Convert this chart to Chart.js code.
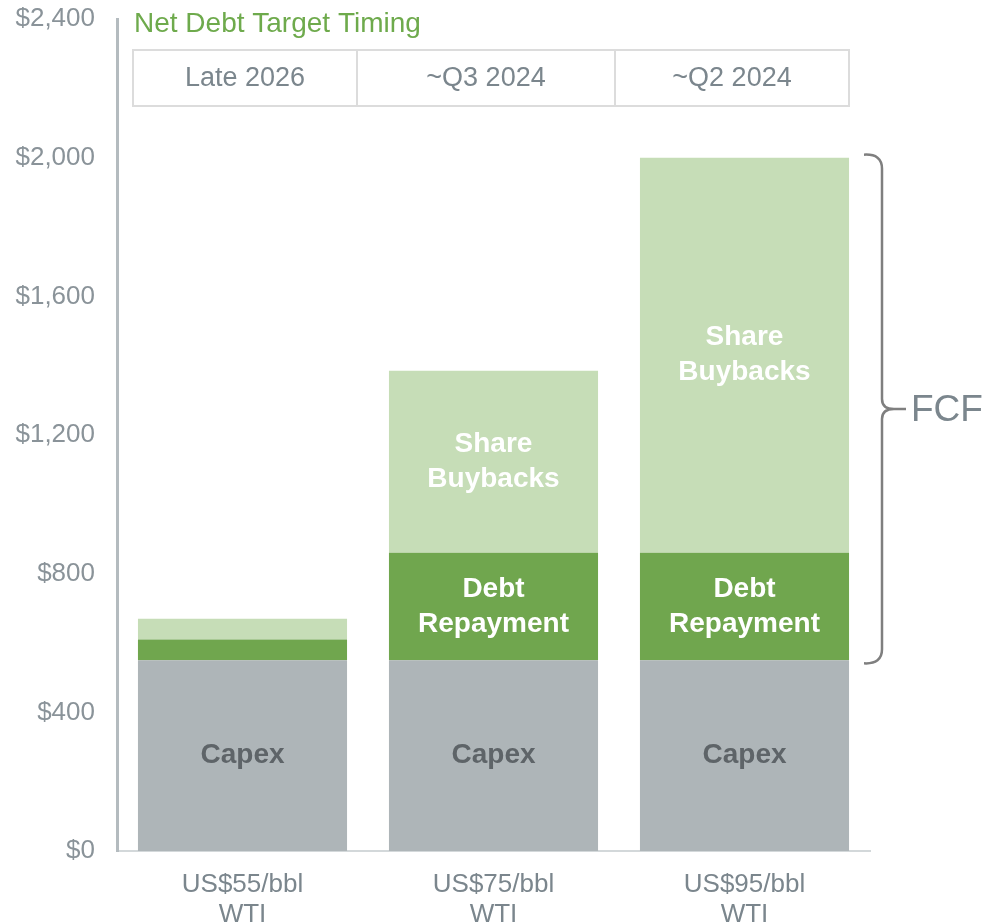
<!DOCTYPE html>
<html>
<head>
<meta charset="utf-8">
<script src="https://cdn.jsdelivr.net/npm/chart.js@4"></script>
<style>
  body { margin: 0; background: #fff; }
  canvas { display: block; }
</style>
</head>
<body>
<canvas id="fcfChart" width="982" height="924"></canvas>
<script>
// data (US$ millions)
const categories = [["US$55/bbl", "WTI"], ["US$75/bbl", "WTI"], ["US$95/bbl", "WTI"]];
const capex = [550, 550, 550];
const debtRepayment = [60, 310, 310];
const shareBuybacks = [60, 525, 1140];
const timing = ["Late 2026", "~Q3 2024", "~Q2 2024"];
const yTicks = [0, 400, 800, 1200, 1600, 2000, 2400];

const FONT = "'Liberation Sans', Arial, sans-serif";
const GREY_TEXT = "#7b868d";

// text shown inside each segment (null = none)
const segmentLabels = [
    ["Capex", "Capex", "Capex"],
    [null, ["Debt", "Repayment"], ["Debt", "Repayment"]],
    [null, ["Share", "Buybacks"], ["Share", "Buybacks"]]
];
const segmentColors = ["#5e6468", "#ffffff", "#ffffff"];

const annotations = {
    id: 'annotations',
    afterDatasetsDraw(chart) {
        const ctx = chart.ctx;
        const y = chart.scales.y;

        // labels inside bars
        ctx.save();
        ctx.font = "bold 28px " + FONT;
        ctx.textAlign = "center";
        ctx.textBaseline = "middle";
        chart.data.datasets.forEach((ds, di) => {
            chart.getDatasetMeta(di).data.forEach((bar, i) => {
                let lbl = segmentLabels[di][i];
                if (!lbl) return;
                if (!Array.isArray(lbl)) lbl = [lbl];
                const cy = (bar.y + bar.base) / 2;
                ctx.fillStyle = segmentColors[di];
                lbl.forEach((line, k) => {
                    ctx.fillText(line, bar.x, cy + (k - (lbl.length - 1) / 2) * 35);
                });
            });
        });
        ctx.restore();

        // title + timing table
        ctx.save();
        ctx.fillStyle = "#6eaa4c";
        ctx.font = "28px " + FONT;
        ctx.textBaseline = "middle";
        ctx.fillText("Net Debt Target Timing", 134, 24);

        const tLeft = 133, tTop = 50, tBottom = 106;
        const cols = [133, 357, 615, 849];
        ctx.strokeStyle = "#dcdcdc";
        ctx.lineWidth = 2;
        ctx.strokeRect(tLeft, tTop, cols[3] - tLeft, tBottom - tTop);
        ctx.beginPath();
        ctx.moveTo(cols[1], tTop); ctx.lineTo(cols[1], tBottom);
        ctx.moveTo(cols[2], tTop); ctx.lineTo(cols[2], tBottom);
        ctx.stroke();
        ctx.fillStyle = GREY_TEXT;
        ctx.font = "27px " + FONT;
        ctx.textAlign = "center";
        timing.forEach((t, i) => {
            ctx.fillText(t, (cols[i] + cols[i + 1]) / 2, 79);
        });
        ctx.restore();

        // FCF brace over the last bar (capex top -> total)
        const last = capex.length - 1;
        const top = y.getPixelForValue(capex[last] + debtRepayment[last] + shareBuybacks[last]) - 3;
        const bottom = y.getPixelForValue(capex[last]) + 3;
        const mid = (top + bottom) / 2;
        const bx = 864, vx = 882, tip = 906;
        ctx.save();
        ctx.strokeStyle = "#7f7f7f";
        ctx.lineWidth = 2.5;
        ctx.beginPath();
        ctx.moveTo(bx, top);
        ctx.quadraticCurveTo(vx, top - 1, vx, top + 14);
        ctx.lineTo(vx, mid - 10);
        ctx.quadraticCurveTo(vx, mid, tip - 12, mid);
        ctx.lineTo(tip, mid);
        ctx.moveTo(tip - 12, mid);
        ctx.quadraticCurveTo(vx, mid, vx, mid + 10);
        ctx.lineTo(vx, bottom - 14);
        ctx.quadraticCurveTo(vx, bottom + 1, bx, bottom);
        ctx.stroke();
        ctx.fillStyle = GREY_TEXT;
        ctx.font = "37px " + FONT;
        ctx.textBaseline = "middle";
        ctx.fillText("FCF", 911, mid + 2);
        ctx.restore();
    }
};

new Chart(document.getElementById('fcfChart').getContext('2d'), {
    type: 'bar',
    data: {
        labels: categories,
        datasets: [
            { label: 'Capex', data: capex, backgroundColor: '#aeb5b8' },
            { label: 'Debt Repayment', data: debtRepayment, backgroundColor: '#70a64e' },
            { label: 'Share Buybacks', data: shareBuybacks, backgroundColor: '#c6ddb7' }
        ]
    },
    options: {
        responsive: false,
        animation: false,
        devicePixelRatio: 1,
        layout: { padding: { top: 19, right: 112, left: 0, bottom: 0 } },
        plugins: { legend: { display: false }, tooltip: { enabled: false } },
        datasets: { bar: { categoryPercentage: 1, barPercentage: 0.833 } },
        scales: {
            x: {
                stacked: true,
                grid: { display: false, drawTicks: false },
                border: { color: '#d3d8da', width: 2 },
                ticks: { color: GREY_TEXT, font: { family: FONT, size: 26, lineHeight: 1.15 }, padding: 19 },
                afterFit: s => { s.height = 73; s.paddingLeft = 0; s.paddingRight = 0; }
            },
            y: {
                stacked: true,
                min: 0,
                max: 2400,
                afterBuildTicks: s => { s.ticks = yTicks.map(v => ({ value: v })); },
                grid: { display: false, drawTicks: false },
                border: { color: '#b4bbbf', width: 3 },
                ticks: {
                    color: '#8a9399',
                    font: { family: FONT, size: 26 },
                    padding: 22,
                    callback: v => '$' + v.toLocaleString('en-US')
                },
                afterFit: s => { s.width = 117; s.paddingTop = 0; s.paddingBottom = 0; }
            }
        }
    },
    plugins: [annotations]
});
</script>
</body>
</html>
